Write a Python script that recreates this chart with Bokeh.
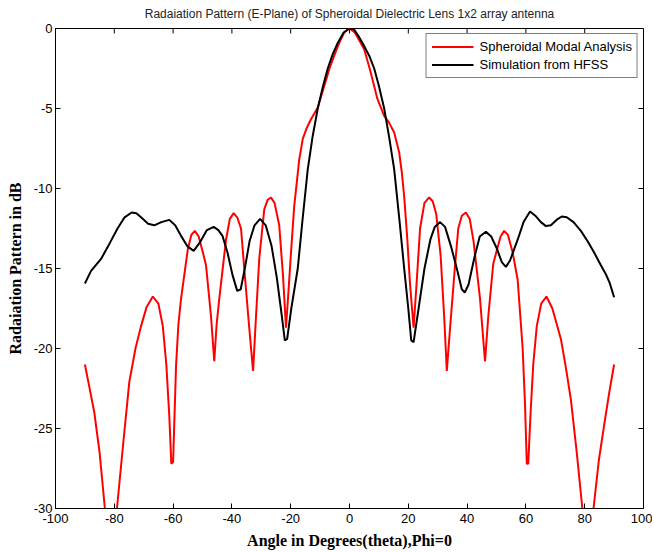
import math
from bokeh.plotting import figure
from bokeh.models import Range1d, FixedTicker, Legend, LegendItem
from bokeh.embed import file_html
from bokeh.resources import INLINE

# ---------------- data ----------------
title_text = "Radaiation Pattern (E-Plane) of Spheroidal Dielectric Lens 1x2 array antenna"
x_label = "Angle in Degrees(theta),Phi=0"
y_label = "Radaiation Pattern in dB"

x_ticks = [-100, -80, -60, -40, -20, 0, 20, 40, 60, 80, 100]
x_tick_labels = ["-100", "-80", "-60", "-40", "-20", "0", "20", "40", "60", "80", "100"]
y_ticks = [-30, -25, -20, -15, -10, -5, 0]
y_tick_labels = ["-30", "-25", "-20", "-15", "-10", "-5", "0"]
x_min, x_max = -100, 100
y_min, y_max = -30, 0

series_names = ["Spheroidal Modal Analysis", "Simulation from HFSS"]

modal_theta = [
    -90, -88.5, -86.8, -85, -83.2, -81.2, -79.1, -77, -74.9, -72.8, -70.9, -69, -66.9, -65, -63.5,
    -62.3, -61.3, -60.6, -60.0, -59.0, -58.2, -57.3, -55.0, -53.8, -52.6, -51.3, -50.0, -48.8,
    -47.1, -46.0, -45.2, -44.3, -42.0, -40.7, -39.4, -38.2, -36.9, -35.8, -34.2, -32.8, -31.8,
    -30.7, -29.0, -27.8, -26.7, -25.5, -23.9, -22.6, -21.6, -20.6, -19.9, -18.8, -17.1, -15.9,
    -14.5, -13.1, -10.8, -8.6, -6.8, -5.2, -3.5, -1.8, 0,
    1.8, 3.5, 5.0, 7.0, 9.5, 11.8, 13.5, 15.2, 16.9, 17.8, 18.6, 19.6, 20.6, 21.8, 22.8, 24.0,
    25.5, 27.1, 28.3, 29.5, 31.0, 32.2, 33.1, 34.3, 35.9, 37.0, 38.2, 39.6, 40.9, 42.2, 44.4,
    46.1, 47.2, 48.9, 50.2, 51.4, 52.6, 53.9, 55.5, 57.2, 58.9, 59.7, 60.3, 60.8, 61.6, 62.5,
    63.7, 65.2, 67.0, 69.0, 71.9, 73.6, 75.3, 77.3, 79.2, 81.1, 83.0, 84.8, 86.6, 88.3, 90,
]
modal_db = [
    -21.0, -22.4, -24.0, -26.5, -30.0, -33.5, -30.0, -26.0, -22.1, -20.0, -18.6, -17.4, -16.75,
    -17.2, -18.6, -21.0, -24.2, -27.2, -27.1, -21.1, -18.5, -16.9, -13.8, -12.9, -12.65, -13.0,
    -13.9, -14.8, -18.0, -20.8, -18.5, -16.9, -13.2, -11.9, -11.54, -11.8, -12.5, -15.0, -18.5,
    -21.4, -18.0, -14.4, -11.3, -10.7, -10.56, -10.9, -12.3, -15.5, -18.7, -16.0, -14.0, -11.1,
    -8.2, -6.9, -6.2, -5.67, -4.94, -3.6, -2.5, -1.7, -0.9, -0.25, 0,
    -0.25, -0.8, -1.3, -2.6, -4.4, -5.46, -5.9, -6.5, -7.75, -9.0, -10.5, -13.0, -16.0, -18.7,
    -16.0, -12.5, -10.9, -10.56, -10.8, -11.6, -14.2, -18.0, -21.4, -18.5, -14.8, -12.5, -11.7,
    -11.5, -11.9, -13.3, -16.9, -20.8, -18.0, -14.7, -13.8, -13.0, -12.65, -12.9, -14.0, -15.7,
    -20.0, -23.5, -27.2, -27.2, -24.0, -21.0, -18.6, -17.2, -16.75, -17.5, -19.4, -21.2, -23.2,
    -26.5, -30.0, -33.5, -30.0, -27.0, -24.8, -22.8, -21.0,
]

hfss_theta = [
    -90, -87.9, -84.5, -81.5, -78.9, -76.5, -74.1, -72.5, -70.9, -68.5, -66.4, -64.0, -61.3,
    -59.3, -57.3, -55.2, -53.0, -51.0, -48.5, -46.2, -44.6, -43.2, -41.5, -39.8, -38.2, -37.0,
    -35.5, -34.0, -32.3, -30.4, -28.5, -26.5, -24.7, -23.0, -22.0, -21.2, -19.8, -17.6, -16.0,
    -14.2, -12.5, -10.8, -9.0, -7.4, -5.7, -4.0, -2.0, 0,
    1.5, 3.0, 5.0, 6.7, 8.4, 10.0, 11.8, 13.5, 15.2, 17.0, 18.6, 20.0, 21.0, 21.8, 23.5, 25.5,
    27.5, 29.0, 30.8, 32.5, 34.5, 36.5, 38.2, 39.2, 40.5, 42.5, 44.3, 46.4, 48.2, 50.0, 51.8,
    53.2, 54.6, 55.8, 57.2, 59.2, 61.4, 63.2, 65.1, 66.8, 68.5, 70.5, 72.2, 73.9, 76.2, 78.7,
    81.0, 83.2, 85.5, 87.2, 88.5, 90.0,
]
hfss_db = [
    -15.94, -15.15, -14.4, -13.4, -12.5, -11.8, -11.5, -11.55, -11.8, -12.2, -12.3, -12.1, -11.96,
    -12.3, -12.96, -13.6, -13.9, -13.4, -12.6, -12.4, -12.6, -12.96, -14.0, -15.4, -16.4, -16.3,
    -14.9, -13.3, -12.3, -11.9, -12.3, -13.6, -15.6, -18.0, -19.5, -19.4, -17.5, -15.0, -12.0,
    -8.8, -6.7, -5.0, -3.6, -2.5, -1.6, -0.9, -0.25, 0,
    -0.05, -0.45, -1.1, -1.7, -2.5, -3.6, -5.0, -6.8, -8.8, -12.0, -15.0, -17.5, -19.5, -19.6,
    -17.5, -15.0, -13.2, -12.4, -12.1, -12.4, -13.6, -15.0, -16.3, -16.5, -16.0, -14.3, -13.0,
    -12.7, -13.0, -13.7, -14.6, -14.9, -14.5, -13.9, -13.2, -12.1, -11.44, -11.7, -12.1, -12.35,
    -12.3, -11.95, -11.75, -11.8, -12.1, -12.65, -13.3, -14.0, -14.8, -15.36, -15.9, -16.8,
]

# ---------------- figure ----------------
p = figure(
    frame_width=588, frame_height=480,
    output_backend="svg", toolbar_location=None,
    x_range=Range1d(x_min, x_max), y_range=Range1d(y_min, y_max),
    min_border_left=55, min_border_right=9, min_border_top=28, min_border_bottom=20,
    background_fill_color="white", border_fill_color="white",
)
p.grid.visible = False
p.outline_line_color = "black"
p.outline_line_width = 1

p.title.text = title_text
p.title.align = "center"
p.title.vertical_align = "top"
p.title.text_font = "Liberation Sans"
p.title.text_font_size = "12px"
p.title.text_font_style = "normal"
p.title.text_color = "#222222"
p.title.standoff = 11

FONT = "Liberation Sans"


def style_axis(ax, ticks, labels, title):
    ax.ticker = FixedTicker(ticks=ticks)
    ax.major_label_overrides = {t: l for t, l in zip(ticks, labels)}
    ax.major_tick_in = 5
    ax.major_tick_out = 0
    ax.minor_tick_line_color = None
    ax.axis_line_color = "black"
    ax.major_tick_line_color = "black"
    ax.major_label_text_font = FONT
    ax.major_label_text_color = "black"
    ax.major_label_text_font_size = "13px"
    ax.major_label_standoff = 3
    ax.axis_label = title
    ax.axis_label_text_font = "Liberation Serif"
    ax.axis_label_text_font_style = "bold"
    ax.axis_label_text_font_size = "16px"
    ax.axis_label_text_color = "black"


style_axis(p.xaxis[0], x_ticks, x_tick_labels, x_label)
style_axis(p.yaxis[0], y_ticks, y_tick_labels, y_label)
p.xaxis[0].major_label_standoff = 5
p.xaxis[0].axis_label_standoff = 6
p.yaxis[0].axis_label_standoff = 7

# ticks on the top and right edges of the box (MATLAB style)
p.scatter(x_ticks, [y_max] * len(x_ticks), marker="dash", angle=math.pi / 2,
          size=10, line_color="black", line_width=1)
p.scatter([x_max] * len(y_ticks), y_ticks, marker="dash",
          size=10, line_color="black", line_width=1)

r_modal = p.line(modal_theta, modal_db, line_color="#ff0000", line_width=2)
r_hfss = p.line(hfss_theta, hfss_db, line_color="#000000", line_width=2)

legend = Legend(
    items=[LegendItem(label=series_names[0], renderers=[r_modal]),
           LegendItem(label=series_names[1], renderers=[r_hfss])],
    location="top_right",
    margin=5, padding=5, spacing=3,
    glyph_width=42, glyph_height=15, label_height=15, label_standoff=6,
    label_text_font=FONT, label_text_font_size="13px", label_text_color="black",
    border_line_color="black", border_line_width=1,
    background_fill_color="white", background_fill_alpha=1,
)
p.add_layout(legend, "center")

open("out.html", "w").write(file_html(p, INLINE))
